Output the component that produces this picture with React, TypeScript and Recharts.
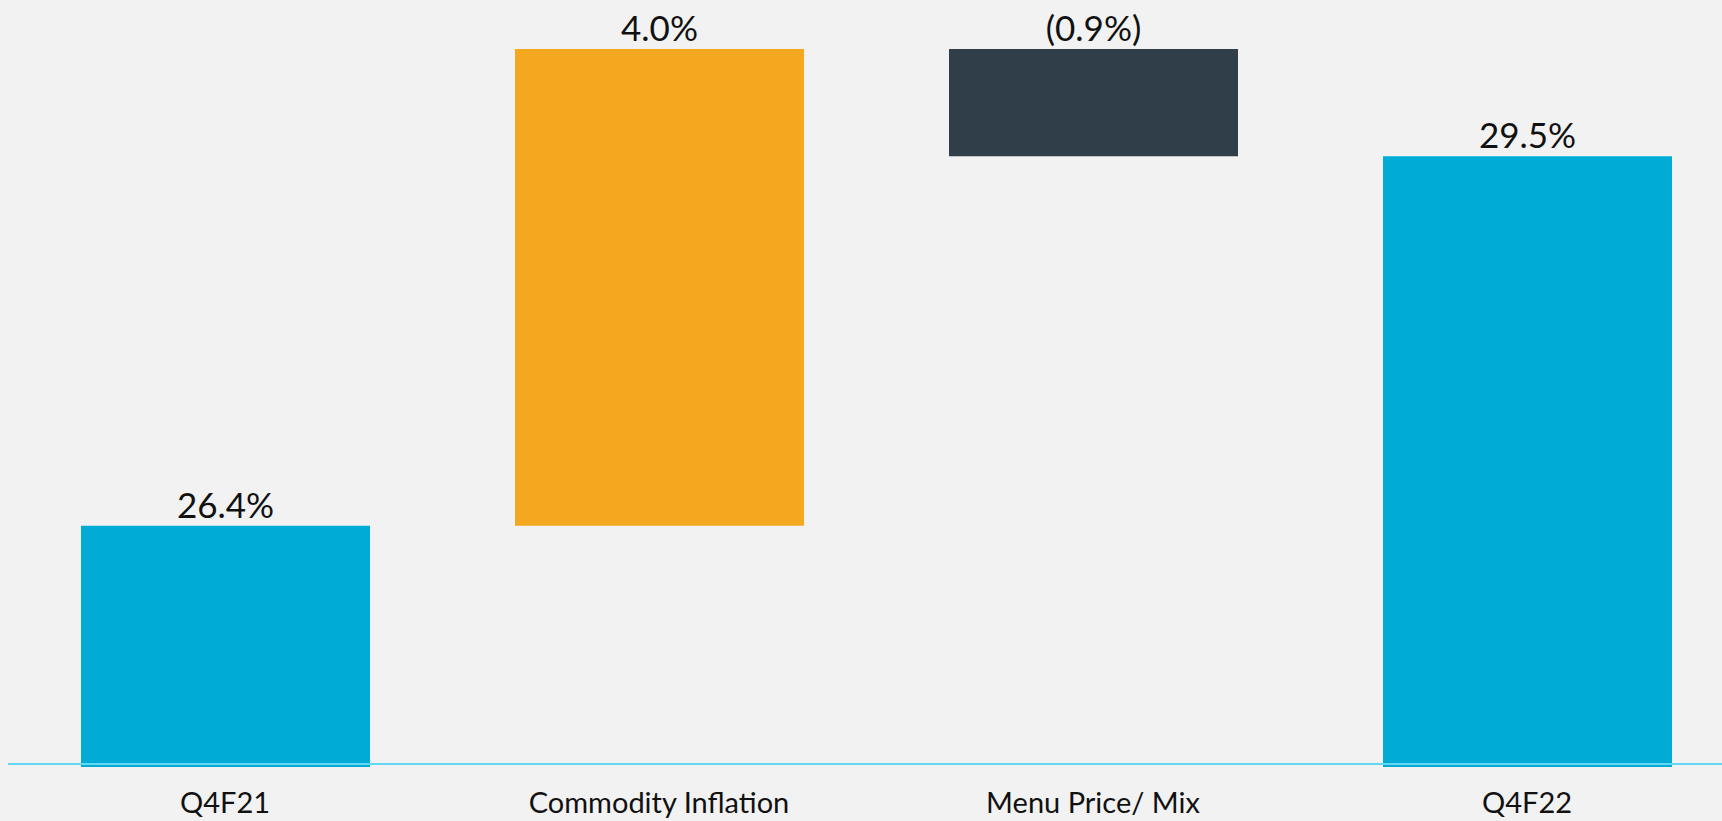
import { Bar, BarChart, Cell, LabelList, ReferenceLine, XAxis, YAxis } from "recharts";

// waterfall: Q4F21 -> drivers -> Q4F22 (food cost % of sales)
const categories = ["Q4F21", "Commodity Inflation", "Menu Price/ Mix", "Q4F22"];
const values = [26.4, 4.0, -0.9, 29.5];
const kinds = ["total", "delta", "delta", "total"];
const axisFloor = 24.4;
const axisTop = 30.4;

const COLORS: Record<string, string> = {
  total: "#00abd6",
  up: "#f4a81f",
  down: "#2f3e48",
};

const fmt = (v: number) => (v < 0 ? `(${Math.abs(v).toFixed(1)}%)` : `${v.toFixed(1)}%`);

function buildRows() {
  let running = 0;
  return categories.map((name, i) => {
    const v = values[i];
    if (kinds[i] === "total") {
      running = v;
      return { name, range: [axisFloor - 0.025, v], label: fmt(v), color: COLORS.total };
    }
    const start = running;
    running = +(running + v).toFixed(2);
    return {
      name,
      range: [Math.min(start, running), Math.max(start, running)],
      label: fmt(v),
      color: v >= 0 ? COLORS.up : COLORS.down,
    };
  });
}

export default function App() {
  const data = buildRows();

  return (
    <div style={{ position: "absolute", left: 0, top: 0, width: 1722, height: 821, overflow: "hidden", background: "#f2f2f2" }}>
      <BarChart width={1744} height={821} data={data} margin={{ top: 49, right: 0, left: 8, bottom: 0 }}>
        <XAxis
          dataKey="name"
          height={54}
          axisLine={false}
          tickLine={false}
          tickSize={0}
          tickMargin={25}
          interval={0}
          tick={{ fill: "#111", fontSize: 29, fontFamily: "Lato" }}
        />
        <YAxis hide domain={[axisFloor - 0.025, axisTop]} allowDataOverflow />
        <Bar dataKey="range" barSize={289} isAnimationActive={false}>
          {data.map((d) => (
            <Cell key={d.name} fill={d.color} />
          ))}
          <LabelList dataKey="label" position="top" offset={8} fill="#111" fontSize={35} fontFamily="Lato" />
        </Bar>
        <ReferenceLine y={axisFloor} stroke="#62d8f7" strokeWidth={2} ifOverflow="extendDomain" />
      </BarChart>
    </div>
  );
}
